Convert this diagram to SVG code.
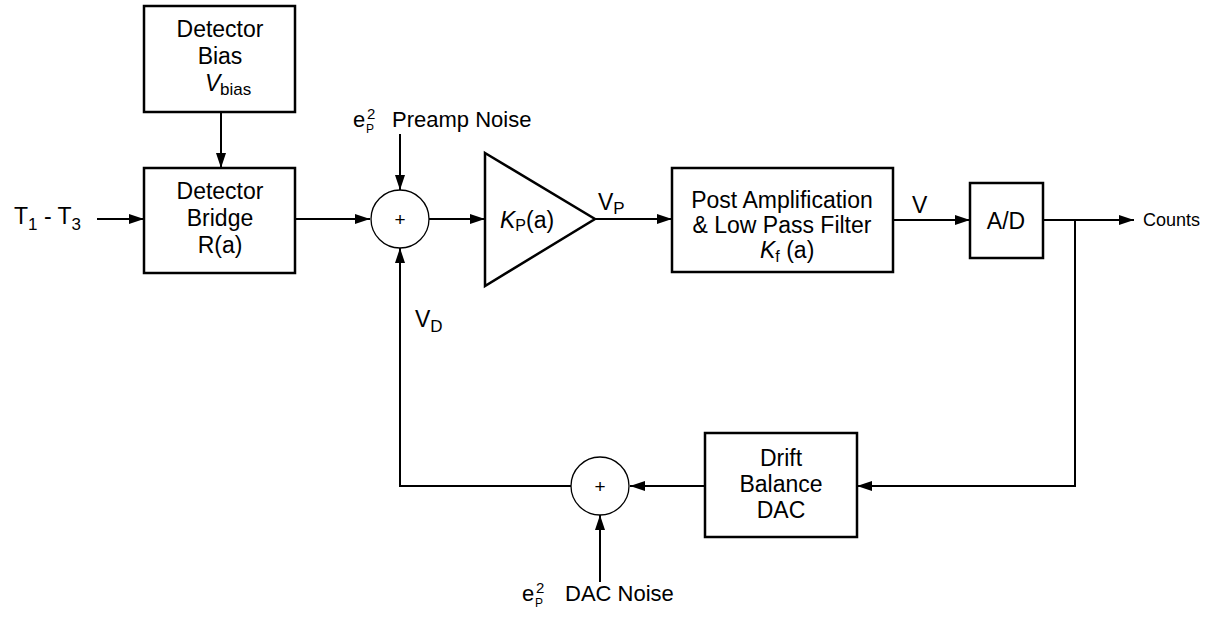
<svg xmlns="http://www.w3.org/2000/svg" width="1208" height="618" viewBox="0 0 1208 618">
<style>
text{font-family:"Liberation Sans",Arial,sans-serif;fill:#000;}
.t{font-size:23px;text-anchor:middle;}
.box{fill:#fff;stroke:#000;stroke-width:2.5;}
.sum{fill:#fff;stroke:#000;stroke-width:1.3;}
.ln{fill:none;stroke:#000;stroke-width:2;}
</style>
<defs>
<marker id="ah" markerUnits="userSpaceOnUse" markerWidth="15" markerHeight="10" refX="15" refY="5" orient="auto">
<path d="M0,0 L15,5 L0,10 Z" fill="#000"/>
</marker>
</defs>
<rect width="1208" height="618" fill="#fff"/>

<g id="connectors">
<line class="ln" x1="97" y1="219" x2="144" y2="219" marker-end="url(#ah)"/>
<line class="ln" x1="221" y1="112" x2="221" y2="168" marker-end="url(#ah)"/>
<line class="ln" x1="295" y1="219" x2="370" y2="219" marker-end="url(#ah)"/>
<line class="ln" x1="400" y1="134" x2="400" y2="190" marker-end="url(#ah)"/>
<line class="ln" x1="429" y1="219" x2="485" y2="219" marker-end="url(#ah)"/>
<line class="ln" x1="595" y1="219" x2="672" y2="219" marker-end="url(#ah)"/>
<line class="ln" x1="893" y1="220" x2="970" y2="220" marker-end="url(#ah)"/>
<line class="ln" x1="1043" y1="220" x2="1134" y2="220" marker-end="url(#ah)"/>
<polyline class="ln" points="1075,220 1075,486 857,486" marker-end="url(#ah)"/>
<line class="ln" x1="705" y1="486" x2="630" y2="486" marker-end="url(#ah)"/>
<polyline class="ln" points="571,486 400,486 400,248" marker-end="url(#ah)"/>
<line class="ln" x1="600" y1="582" x2="600" y2="515" marker-end="url(#ah)"/>
</g>

<g id="bias">
<rect class="box" x="144" y="6" width="151" height="106"/>
<text class="t" x="220" y="37">Detector</text>
<text class="t" x="220" y="64">Bias</text>
<text x="205" y="91" font-size="23" font-style="italic">V</text>
<text x="220" y="95" font-size="17">bias</text>
</g>

<g id="bridge">
<rect class="box" x="144" y="168" width="151" height="105"/>
<text class="t" x="220" y="199">Detector</text>
<text class="t" x="220" y="226">Bridge</text>
<text class="t" x="220" y="253">R(a)</text>
</g>

<g id="input">
<text x="14" y="224" font-size="23">T<tspan font-size="17" dy="6">1</tspan><tspan dy="-6"> - T</tspan><tspan font-size="17" dy="6">3</tspan></text>
</g>

<g id="sum1">
<circle class="sum" cx="400" cy="219" r="29"/>
<text x="400" y="226" font-size="19" text-anchor="middle">+</text>
</g>

<g id="preamp-noise">
<text x="353" y="127" font-size="22">e</text>
<text x="367" y="119" font-size="15">2</text>
<text x="366" y="133" font-size="12">P</text>
<text x="392" y="127" font-size="22">Preamp Noise</text>
</g>

<g id="amp">
<polygon class="box" points="485,153 595,219 485,286"/>
<text x="500" y="228" font-size="23"><tspan font-style="italic">K</tspan><tspan font-size="16" dy="3">P</tspan><tspan dy="-3">(a)</tspan></text>
</g>

<text x="598" y="210" font-size="23">V<tspan font-size="17" dy="4">P</tspan></text>

<g id="postamp">
<rect class="box" x="672" y="168" width="221" height="104"/>
<text class="t" x="782" y="208">Post Amplification</text>
<text class="t" x="782" y="233">&amp; Low Pass Filter</text>
<text x="760" y="258" font-size="23"><tspan font-style="italic">K</tspan><tspan font-size="16" dy="4">f</tspan><tspan dy="-4"> (a)</tspan></text>
</g>

<text x="912" y="213" font-size="23">V</text>

<g id="adc">
<rect class="box" x="970" y="183" width="73" height="75"/>
<text class="t" x="1006" y="229">A/D</text>
</g>

<text x="1143" y="226" font-size="18">Counts</text>

<g id="drift">
<rect class="box" x="705" y="433" width="152" height="104"/>
<text class="t" x="781" y="466">Drift</text>
<text class="t" x="781" y="492">Balance</text>
<text class="t" x="781" y="518">DAC</text>
</g>

<g id="sum2">
<circle class="sum" cx="600" cy="486" r="29"/>
<text x="600" y="493" font-size="19" text-anchor="middle">+</text>
</g>

<text x="415" y="327" font-size="23">V<tspan font-size="17" dy="5">D</tspan></text>

<g id="dac-noise">
<text x="522" y="601" font-size="22">e</text>
<text x="536" y="593" font-size="15">2</text>
<text x="535" y="607" font-size="12">P</text>
<text x="565" y="601" font-size="22">DAC Noise</text>
</g>
</svg>
